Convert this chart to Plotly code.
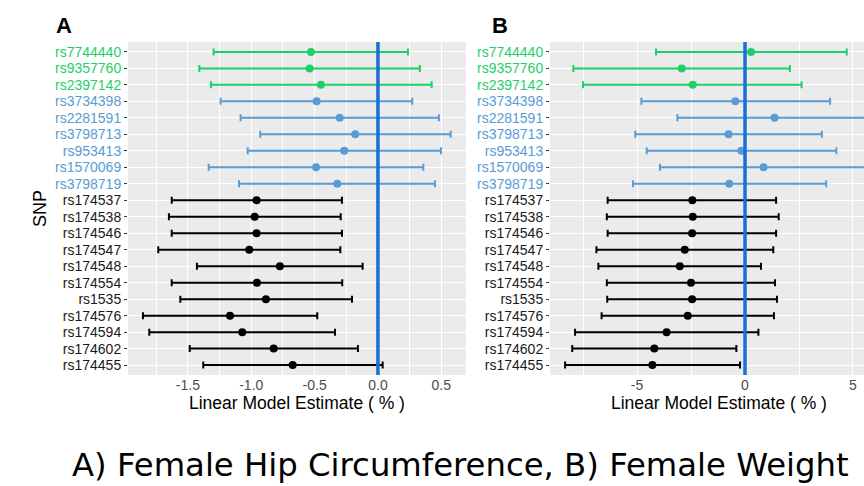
import plotly.graph_objects as go

snps = ["rs7744440", "rs9357760", "rs2397142", "rs3734398", "rs2281591", "rs3798713",
        "rs953413", "rs1570069", "rs3798719", "rs174537", "rs174538", "rs174546",
        "rs174547", "rs174548", "rs174554", "rs1535", "rs174576", "rs174594",
        "rs174602", "rs174455"]
groups = ["green"] * 3 + ["blue"] * 6 + ["black"] * 11

# Panel A: Female Hip Circumference
est_a = [-0.529, -0.539, -0.450, -0.484, -0.302, -0.179, -0.266, -0.489, -0.321,
         -0.958, -0.973, -0.958, -1.016, -0.774, -0.955, -0.884, -1.168, -1.071,
         -0.823, -0.673]
lo_a = [-1.297, -1.410, -1.318, -1.242, -1.084, -0.929, -1.028, -1.336, -1.097,
        -1.628, -1.650, -1.628, -1.734, -1.429, -1.628, -1.560, -1.855, -1.805,
        -1.486, -1.379]
hi_a = [0.237, 0.331, 0.424, 0.271, 0.481, 0.574, 0.497, 0.358, 0.450,
        -0.284, -0.294, -0.284, -0.297, -0.121, -0.282, -0.205, -0.479, -0.339,
        -0.158, 0.037]

# Panel B: Female Weight
est_b = [0.28, -2.93, -2.42, -0.45, 1.37, -0.76, -0.17, 0.86, -0.73,
         -2.44, -2.42, -2.45, -2.79, -3.02, -2.50, -2.45, -2.65, -3.63,
         -4.20, -4.29]
lo_b = [-4.12, -7.95, -7.50, -4.80, -3.13, -5.08, -4.55, -3.94, -5.19,
        -6.36, -6.40, -6.36, -6.88, -6.79, -6.40, -6.38, -6.64, -7.87,
        -8.00, -8.33]
hi_b = [4.71, 2.08, 2.62, 3.94, 5.60, 3.56, 4.23, 5.67, 3.76,
        1.44, 1.56, 1.44, 1.31, 0.74, 1.39, 1.48, 1.34, 0.62,
        -0.40, -0.23]

x_ticks_a = [-1.5, -1.0, -0.5, 0.0, 0.5]
x_ticks_b = [-5, 0, 5]

colors = {"green": "#1fcf68", "blue": "#5b9bd5", "black": "#000000"}
label_colors = {"green": "#1fcf68", "blue": "#5b9bd5", "black": "#1a1a1a"}

W, H = 864, 486
def px(x):
    return x / W
def py(y):
    return 1 - y / H

fig = go.Figure()
pos = list(range(1, len(snps) + 1))

for est, lo, hi, xa, ya in [(est_a, lo_a, hi_a, "x", "y"), (est_b, lo_b, hi_b, "x2", "y2")]:
    for g in ["green", "blue", "black"]:
        idx = [i for i, gg in enumerate(groups) if gg == g]
        fig.add_trace(go.Scatter(
            x=[est[i] for i in idx],
            y=[pos[i] for i in idx],
            mode="markers",
            marker=dict(color=colors[g], size=8),
            error_x=dict(type="data", symmetric=False,
                         array=[hi[i] - est[i] for i in idx],
                         arrayminus=[est[i] - lo[i] for i in idx],
                         color=colors[g], thickness=2, width=3.5),
            xaxis=xa, yaxis=ya, showlegend=False,
        ))

ticktext = ['<span style="color:%s">%s</span>' % (label_colors[g], s) for s, g in zip(snps, groups)]

axis_font = dict(family="Liberation Sans, Arial, sans-serif", size=14, color="#4d4d4d")
common_x = dict(showgrid=True, gridcolor="white", gridwidth=1.2, zeroline=False,
                ticks="", tickfont=axis_font, showline=False)
common_y = dict(range=[20.6, 0.4], tickvals=pos, ticktext=ticktext, showgrid=True,
                gridcolor="white", gridwidth=1.2, zeroline=False, ticks="outside",
                ticklen=3, tickcolor="#333333",
                tickfont=dict(family="Liberation Sans, Arial, sans-serif", size=14),
                showline=False)

fig.update_layout(
    width=W, height=H, margin=dict(l=0, r=0, t=0, b=0),
    paper_bgcolor="white", plot_bgcolor="#ebebeb",
    xaxis=dict(domain=[px(128), px(466)], range=[-1.973, 0.695], tickvals=x_ticks_a,
               ticktext=["%.1f" % v for v in x_ticks_a],
               minor=dict(dtick=0.25, tick0=-1.75, showgrid=True, gridcolor="white", gridwidth=0.6, ticks=""),
               anchor="y", **common_x),
    yaxis=dict(domain=[py(375), py(42)], anchor="x", **common_y),
    xaxis2=dict(domain=[px(550), 1.0], range=[-9.03, 5.51], tickvals=x_ticks_b,
                ticktext=[str(v) for v in x_ticks_b],
                minor=dict(dtick=2.5, tick0=-7.5, showgrid=True, gridcolor="white", gridwidth=0.6, ticks=""),
                anchor="y2", **common_x),
    yaxis2=dict(domain=[py(375), py(42)], anchor="x2", **common_y),
)

for xr, yr in [("x", "y domain"), ("x2", "y2 domain")]:
    fig.add_shape(type="line", xref=xr, yref=yr, x0=0, x1=0, y0=0, y1=1,
                  line=dict(color="#1a6fd6", width=3.5), layer="above")

title_font = dict(family="Liberation Sans, Arial, sans-serif", size=17.5, color="#000000")
fig.add_annotation(x=px(297), y=py(403), xref="paper", yref="paper", text="Linear Model Estimate ( % )",
                   showarrow=False, font=title_font, xanchor="center", yanchor="middle")
fig.add_annotation(x=px(719), y=py(403), xref="paper", yref="paper", text="Linear Model Estimate ( % )",
                   showarrow=False, font=title_font, xanchor="center", yanchor="middle")
fig.add_annotation(x=px(40), y=py(209), xref="paper", yref="paper", text="SNP", textangle=-90,
                   showarrow=False, font=dict(family="Liberation Sans, Arial, sans-serif", size=18, color="#000000"),
                   xanchor="center", yanchor="middle")
fig.add_annotation(x=px(64), y=py(25), xref="paper", yref="paper", text="<b>A</b>",
                   showarrow=False, font=dict(family="Liberation Sans, Arial, sans-serif", size=22, color="#000000"),
                   xanchor="center", yanchor="middle")
fig.add_annotation(x=px(500), y=py(25), xref="paper", yref="paper", text="<b>B</b>",
                   showarrow=False, font=dict(family="Liberation Sans, Arial, sans-serif", size=22, color="#000000"),
                   xanchor="center", yanchor="middle")
fig.add_annotation(x=px(460), y=py(465), xref="paper", yref="paper",
                   text="A) Female Hip Circumference, B) Female Weight",
                   showarrow=False, font=dict(family="DejaVu Sans, sans-serif", size=32.3, color="#000000"),
                   xanchor="center", yanchor="middle")

fig.write_html("out.html", config={"displayModeBar": False},
               post_script="document.body.style.margin='0px';document.body.style.overflow='hidden';")
